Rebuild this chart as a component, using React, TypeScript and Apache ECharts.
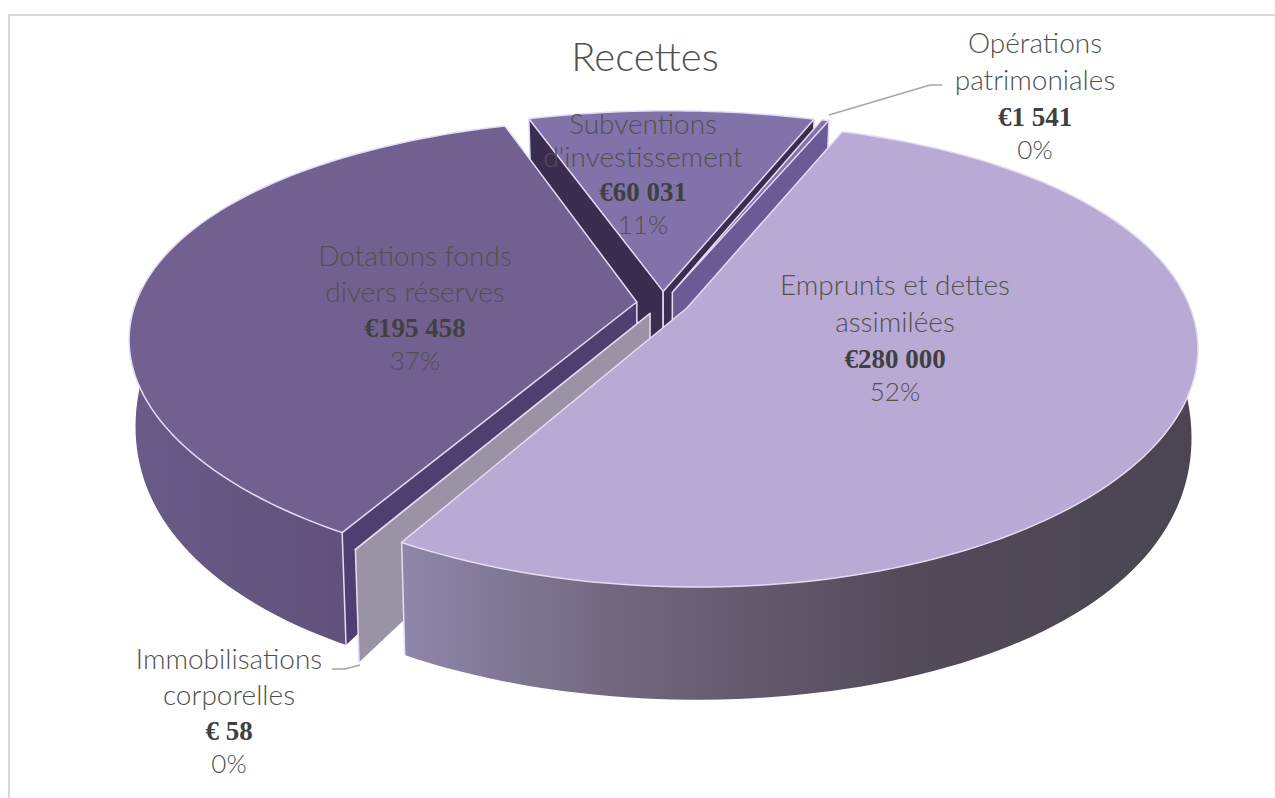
import React, { useEffect, useRef } from "react";
import * as echarts from "echarts";

const categories = ["Emprunts et dettes assimilées", "Immobilisations corporelles", "Dotations fonds divers réserves", "Subventions d'investissement", "Opérations patrimoniales"];
const values = [280000, 58, 195458, 60031, 1541];
const valueLabels = ["€280 000", "€ 58", "€195 458", "€60 031", "€1 541"];
const percentLabels = ["52%", "0%", "37%", "11%", "0%"];
const nameLines = [["Emprunts et dettes", "assimilées"], ["Immobilisations", "corporelles"], ["Dotations fonds", "divers réserves"], ["Subventions", "d'investissement"], ["Opérations", "patrimoniales"]];

const topColors = ["#b9a9d5", "#a29bb0", "#726090", "#8272aa", "#8272aa"];
const cutColors = ["#8c82a6", "#9a93a6", "#4f3f70", "#3a2d50", "#6a5a96"];
const paintOrder = [3, 4, 2, 1, 0];
const labelCenters = [[895, 335], [229, 708], [415, 305], [643, 172], [1035, 93]];
const nameLineHeights = [37, 36, 36, 33, 37];

const C = { x: 663, y: 303, rx: 497, ry: 221, k: 0.2, explode: 0.053, bottomScale: 0.988, h: 116, hFall: 45, hMin: 50, bulge: 9, drift: 6 };
const START_DEG = 21.5;
const EDGE = "#e4dcf4";
const TEXT = "#505050";
const FONT = "Lato, 'Open Sans', sans-serif";

const total = values.reduce((a, b) => a + b, 0);
const rad = (d: number) => (d * Math.PI) / 180;

function App() {
  const ref = useRef<HTMLDivElement>(null);
  useEffect(() => {
    document.body.style.margin = "0";
    document.body.style.overflow = "hidden";
    const chart = echarts.init(ref.current!, null, { renderer: "svg" });

    const starts: number[] = [];
    values.reduce((acc, v, i) => {
      starts[i] = acc;
      return acc + (v / total) * 360;
    }, START_DEG);

    const project = (X: number, Y: number, lower: boolean) => {
      const p = 1 / (1 - C.k * Y);
      const s = lower ? C.bottomScale : 1;
      const wall = lower ? Math.max(C.hMin, C.h - C.hFall * (1 - Y) * (1 - Y)) : 0;
      return [
        C.x + (C.rx * X * p + C.drift * Y * Y) * s,
        C.y + (C.ry * Y * p - C.bulge * X * X) * s + wall,
      ];
    };

    const renderItem = (params: any, api: any) => {
      const idx = api.value(1) as number;
      const from = api.value(2) as number;
      const sweep = ((api.value(0) as number) / total) * 360;
      const mid = rad(from + sweep / 2);
      const ox = C.explode * Math.sin(mid);
      const oy = -C.explode * Math.cos(mid);
      const at = (deg: number, r: number, lower: boolean) =>
        project(ox + r * Math.sin(rad(deg)), oy - r * Math.cos(rad(deg)), lower);

      const n = Math.max(2, Math.ceil(sweep / 1.5));
      const upper: number[][] = [];
      const lowerArc: number[][] = [];
      for (let i = 0; i <= n; i++) {
        const d = from + (sweep * i) / n;
        upper.push(at(d, 1, false));
        lowerArc.push(at(d, 1, true));
      }
      const apex = at(0, 0, false);
      const apexLow = at(0, 0, true);
      const midPt = at(from + sweep / 2, 1, false);

      const outerFill: any =
        idx === 0
          ? new echarts.graphic.LinearGradient(0, 0, 1, 0, [
              { offset: 0, color: "#8f86aa" },
              { offset: 0.25, color: "#736a82" },
              { offset: 0.38, color: "#675e74" },
              { offset: 0.65, color: "#524a58" },
              { offset: 1, color: "#4b4552" },
            ])
          : idx === 2
          ? new echarts.graphic.LinearGradient(0, 0, 1, 0, [
              { offset: 0, color: "#6a5a88" },
              { offset: 1, color: "#5a4a72" },
            ])
          : cutColors[idx];

      const children: any[] = [];
      children.push({
        type: "polygon",
        shape: { points: [...upper, ...lowerArc.slice().reverse()] },
        style: { fill: outerFill },
      });

      const edgeVisible = (P: number[]) => {
        const dx = P[0] - apex[0];
        const dy = P[1] - apex[1];
        const ix = midPt[0] - apex[0];
        const iy = midPt[1] - apex[1];
        const inner = dx * iy - dy * ix;
        if (Math.abs(inner) < 40) return idx === 1 ? P === upper[0] : P === upper[n];
        return inner * dx < 0;
      };
      [0, n].forEach((j) => {
        const P = upper[j];
        if (!edgeVisible(P)) return;
        children.push({
          type: "polygon",
          shape: { points: [apex, P, lowerArc[j], apexLow] },
          style: { fill: cutColors[idx] },
        });
        children.push({
          type: "line",
          shape: { x1: P[0], y1: P[1], x2: lowerArc[j][0], y2: lowerArc[j][1] },
          style: { stroke: EDGE, lineWidth: 1.5 },
        });
        children.push({
          type: "line",
          shape: { x1: apex[0], y1: apex[1], x2: apexLow[0], y2: apexLow[1] },
          style: { stroke: EDGE, lineWidth: 1.5 },
        });
      });
      if (idx === 0) {
        const P = upper[n];
        children.push({
          type: "line",
          shape: { x1: P[0], y1: P[1], x2: lowerArc[n][0], y2: lowerArc[n][1] },
          style: { stroke: EDGE, lineWidth: 1.5 },
        });
      }
      children.push({
        type: "polygon",
        shape: { points: [apex, ...upper] },
        style: { fill: topColors[idx], stroke: EDGE, lineWidth: 1.5, lineJoin: "round" },
      });
      return { type: "group", children };
    };

    const labelGraphics = paintOrder.map((i) => ({
      type: "text",
      x: labelCenters[i][0],
      y: labelCenters[i][1],
      z: 10,
      style: {
        text: [
          ...nameLines[i].map((l) => `{n|${l}}`),
          `{v|${valueLabels[i]}}`,
          `{p|${percentLabels[i]}}`,
        ].join("\n"),
        align: "center",
        verticalAlign: "middle",
        rich: {
          n: { fontFamily: FONT, fontWeight: 300, fontSize: 28, lineHeight: nameLineHeights[i], fill: TEXT, color: TEXT, align: "center" },
          v: { fontFamily: "'Liberation Serif', serif", fontWeight: "bold", fontSize: 27, lineHeight: 38, fill: "#404040", color: "#404040", align: "center" },
          p: { fontFamily: FONT, fontWeight: 300, fontSize: 26, lineHeight: 27, fill: TEXT, color: TEXT, align: "center" },
        },
      },
    }));

    chart.setOption({
      animation: false,
      backgroundColor: "#ffffff",
      title: {
        text: "Recettes",
        left: 640,
        top: 31,
        textAlign: "center",
        textStyle: { fontFamily: FONT, fontWeight: 300, fontSize: 40, color: TEXT },
      },
      graphic: [
        {
          type: "polyline",
          shape: { points: [[9, 798], [9, 15], [1275, 15]] },
          style: { fill: "none", stroke: "#d9d9d9", lineWidth: 2 },
          z: -1,
        },
        {
          type: "polyline",
          shape: { points: [[829, 115], [930, 85], [942, 85]] },
          style: { fill: "none", stroke: "#a6a6a6", lineWidth: 1.5 },
          z: 9,
        },
        {
          type: "polyline",
          shape: { points: [[360, 665], [345, 669], [332, 669]] },
          style: { fill: "none", stroke: "#a6a6a6", lineWidth: 1.5 },
          z: 9,
        },
        ...labelGraphics,
      ],
      series: [
        {
          type: "custom",
          coordinateSystem: "none",
          renderItem,
          silent: true,
          data: paintOrder.map((i) => ({ name: categories[i], value: [values[i], i, starts[i]] })),
        },
      ],
    });
    return () => chart.dispose();
  }, []);
  return <div ref={ref} style={{ position: "absolute", left: 0, top: 0, width: 1275, height: 798 }} />;
}

export default App;
